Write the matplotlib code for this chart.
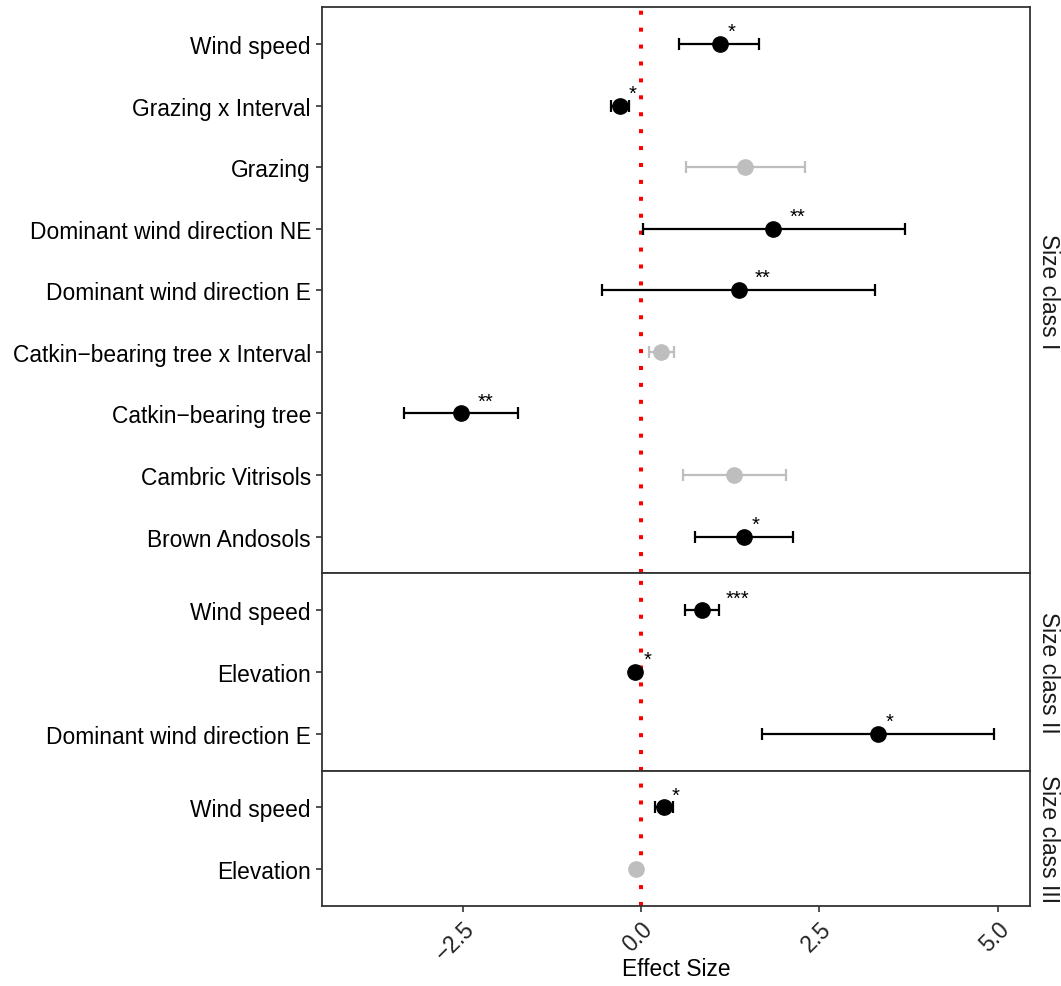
import matplotlib
matplotlib.use('Agg')
import matplotlib.pyplot as plt

plt.rcParams['font.family'] = ['Liberation Sans', 'DejaVu Sans']

# ---------------- data ----------------
panel_names = ['Size class I', 'Size class II', 'Size class III']

terms_I = ['Wind speed', 'Grazing x Interval', 'Grazing',
           'Dominant wind direction NE', 'Dominant wind direction E',
           'Catkin\u2212bearing tree x Interval', 'Catkin\u2212bearing tree',
           'Cambric Vitrisols', 'Brown Andosols']
est_I = [1.10, -0.29, 1.46, 1.85, 1.37, 0.28, -2.52, 1.30, 1.44]
lo_I = [0.53, -0.42, 0.63, 0.03, -0.55, 0.11, -3.32, 0.59, 0.76]
hi_I = [1.65, -0.17, 2.30, 3.70, 3.28, 0.46, -1.72, 2.03, 2.13]
sig_I = ['*', '*', '', '**', '**', '', '**', '', '*']

terms_II = ['Wind speed', 'Elevation', 'Dominant wind direction E']
est_II = [0.85, -0.08, 3.32]
lo_II = [0.62, -0.10, 1.70]
hi_II = [1.09, -0.06, 4.95]
sig_II = ['***', '*', '*']

terms_III = ['Wind speed', 'Elevation']
est_III = [0.32, -0.07]
lo_III = [0.19, -0.09]
hi_III = [0.45, -0.05]
sig_III = ['*', '']

x_ticks = [-2.5, 0.0, 2.5, 5.0]
x_ticklabels = ['\u22122.5', '0.0', '2.5', '5.0']
x_limits = (-4.47, 5.45)

panels = [
    (terms_I, est_I, lo_I, hi_I, sig_I),
    (terms_II, est_II, lo_II, hi_II, sig_II),
    (terms_III, est_III, lo_III, hi_III, sig_III),
]

# ---------------- figure ----------------
W, H, DPI = 1061, 987, 100
fig = plt.figure(figsize=(W / DPI, H / DPI), dpi=DPI)
ratios = [len(p[0]) - 1 + 1.2 for p in panels]
gs = fig.add_gridspec(3, 1, height_ratios=ratios, hspace=0,
                      left=322 / W, right=1030 / W,
                      top=1 - 8 / H, bottom=1 - 907 / H)

FS = 16.4
EDGE = '#333333'
GREY = '#BEBEBE'

axes = []
for i, (terms, est, lo, hi, sig) in enumerate(panels):
    ax = fig.add_subplot(gs[i])
    axes.append(ax)
    n = len(terms)
    ys = list(range(n))
    ax.axvline(0, color='red', lw=2.9, linestyle=(0, (1, 3.2)),
               dash_capstyle='butt', zorder=1)
    for y, e, l, h, s in zip(ys, est, lo, hi, sig):
        c = 'black' if s else GREY
        ax.errorbar([e], [y], xerr=[[e - l], [h - e]], fmt='o', color=c,
                    ms=11, capsize=4.5, elinewidth=1.6, capthick=1.6,
                    zorder=3)
        if s:
            ax.annotate(s, xy=(e, y), xytext=(12 * len(s), 7),
                        textcoords='offset pixels', ha='center',
                        va='baseline', fontsize=14.5, color='black',
                        zorder=4)
    ax.set_ylim(n - 1 + 0.6, -0.6)
    ax.set_xlim(*x_limits)
    ax.set_yticks(ys)
    ax.set_yticklabels(terms, fontsize=FS, color='black')
    ax.set_xticks(x_ticks)
    for sp in ax.spines.values():
        sp.set_color(EDGE)
        sp.set_linewidth(1.3)
    ax.tick_params(axis='both', length=4, width=1.2, color=EDGE, pad=4)
    ax.annotate(panel_names[i], xy=(1, 0.5), xycoords='axes fraction',
                xytext=(18, 0), textcoords='offset pixels',
                rotation=-90, ha='center', va='center', fontsize=FS,
                color='#1a1a1a')
    if i < 2:
        ax.tick_params(axis='x', bottom=False, labelbottom=False)
    else:
        ax.set_xticklabels(x_ticklabels, fontsize=FS, rotation=45,
                           ha='right', va='top', rotation_mode='anchor',
                           color='#222222')

fig.text((322 + 1030) / 2 / W, 1 - 970 / H, 'Effect Size', fontsize=FS,
         ha='center', va='center', color='black')

fig.savefig('out.png', dpi=DPI)
